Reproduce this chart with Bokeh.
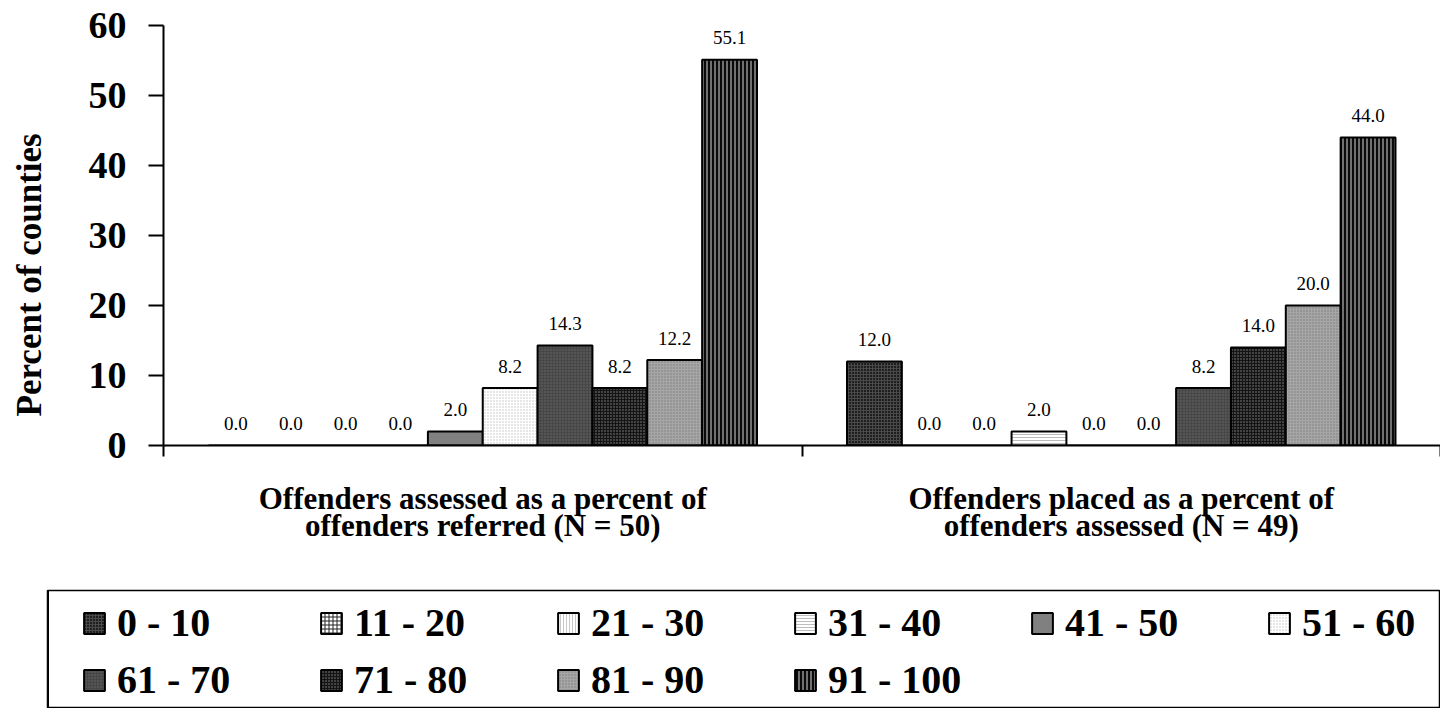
from bokeh.plotting import figure
from bokeh.models import (Range1d, FactorRange, FixedTicker, CategoricalAxis, LinearAxis,
                          ColumnDataSource, Legend, LegendItem)
from bokeh.transform import dodge
from bokeh.layouts import column
from bokeh.embed import file_html
from bokeh.resources import INLINE
from bokeh.core.properties import value

# ---------------- data ----------------
groups = ["Offenders assessed as a percent of\noffenders referred (N = 50)",
          "Offenders placed as a percent of\noffenders assessed (N = 49)"]
bins = ["0 - 10", "11 - 20", "21 - 30", "31 - 40", "41 - 50",
        "51 - 60", "61 - 70", "71 - 80", "81 - 90", "91 - 100"]
assessed = [0.0, 0.0, 0.0, 0.0, 2.0, 8.2, 14.3, 8.2, 12.2, 55.1]
placed = [12.0, 0.0, 0.0, 2.0, 0.0, 0.0, 8.2, 14.0, 20.0, 44.0]
y_ticks = [0, 10, 20, 30, 40, 50, 60]
y_title = "Percent of counties"

# ---------------- styles ----------------
FONT = "Liberation Serif"
styles = [
    dict(fill_color="#1e1e1e", hatch_pattern="cross", hatch_color="#4a4a4a", hatch_scale=3, hatch_weight=1),
    dict(fill_color="white", hatch_pattern="cross", hatch_color="#222222", hatch_scale=4, hatch_weight=1),
    dict(fill_color="white", hatch_pattern="vertical_line", hatch_color="#c8c8c8", hatch_scale=3, hatch_weight=1),
    dict(fill_color="white", hatch_pattern="horizontal_line", hatch_color="#bdbdbd", hatch_scale=3, hatch_weight=1),
    dict(fill_color="#808080", hatch_pattern=None),
    dict(fill_color="white", hatch_pattern="dot", hatch_color="#c0c0c0", hatch_scale=3, hatch_weight=1),
    dict(fill_color="#474747", hatch_pattern="dot", hatch_color="#6a6a6a", hatch_scale=3, hatch_weight=1),
    dict(fill_color="#141414", hatch_pattern="dot", hatch_color="#8a8a8a", hatch_scale=3, hatch_weight=1),
    dict(fill_color="#a6a6a6", hatch_pattern="dot", hatch_color="#7a7a7a", hatch_scale=3, hatch_weight=1),
    dict(fill_color="#0a0a0a", hatch_pattern="vertical_line", hatch_color="#d8d8d8", hatch_scale=4, hatch_weight=1),
]

n = len(bins)
group_frac = 0.859
bar_w = group_frac / n

# ---------------- main figure ----------------
cat_range = FactorRange(factors=groups)
p = figure(width=1440, height=589, x_range=cat_range, y_range=Range1d(0, 60),
           output_backend="svg", toolbar_location=None, x_axis_location=None,
           min_border_left=163, min_border_right=0, min_border_top=25, min_border_bottom=144)
p.outline_line_color = None
p.grid.visible = False
p.background_fill_color = "white"
p.border_fill_color = "white"
if "frame_align" in p.properties():
    p.frame_align = False

sources = []
for j, b in enumerate(bins):
    vals = [assessed[j], placed[j]]
    src = ColumnDataSource(dict(group=groups, top=vals, label=[f"{v:.1f}" for v in vals]))
    sources.append(src)
    off = (j - (n - 1) / 2) * bar_w
    p.vbar(x=dodge("group", off, range=cat_range), top="top", bottom=0, width=bar_w,
           source=src, line_color="black", line_width=2, **styles[j])
    p.text(x=dodge("group", off, range=cat_range), y="top", text="label", source=src,
           text_align="center", text_baseline="alphabetic", y_offset=-22,
           text_font=value(FONT), text_font_size="19px", text_color="black")

# x axis with ticks on the group boundaries
xa = LinearAxis(ticker=FixedTicker(ticks=[0, 1, 2]), major_tick_out=11, major_tick_in=0,
                minor_tick_line_color=None, major_label_overrides={0: "", 1: "", 2: ""},
                major_label_text_font_size="1px", major_label_standoff=0,
                axis_line_width=2, major_tick_line_width=2)
p.add_layout(xa, "below")

cax = CategoricalAxis(axis_line_color=None, major_tick_line_color=None,
                      minor_tick_line_color=None, major_label_standoff=18,
                      major_label_text_font=FONT, major_label_text_font_size="31px",
                      major_label_text_font_style="bold", major_label_text_color="black",
                      major_label_text_line_height=0.78)
p.add_layout(cax, "below")

ya = p.yaxis[0]
ya.ticker = FixedTicker(ticks=y_ticks)
ya.major_tick_out = 15
ya.major_tick_in = 0
ya.minor_tick_line_color = None
ya.axis_line_width = 2
ya.major_tick_line_width = 2
ya.major_label_standoff = 22
ya.major_label_text_font = FONT
ya.major_label_text_font_size = "38px"
ya.major_label_text_font_style = "bold"
ya.major_label_text_color = "black"
# trailing no-break spaces push the visible title slightly below the frame centre, as in the original
ya.axis_label = y_title + "\u00a0" * 9
ya.axis_label_standoff = 37
ya.axis_label_text_font = FONT
ya.axis_label_text_font_size = "35px"
ya.axis_label_text_font_style = "bold"
ya.axis_label_text_color = "black"

# ---------------- legend box ----------------
lg = figure(width=1394, height=119, x_range=Range1d(100, 101), y_range=Range1d(0, 1),
            output_backend="svg", toolbar_location=None,
            x_axis_location=None, y_axis_location=None,
            min_border=1, margin=(0, 0, 0, 46))
lg.grid.visible = False
lg.outline_line_color = "black"
lg.outline_line_width = 1.5
if "frame_align" in lg.properties():
    lg.frame_align = False

proxies = []
for j, b in enumerate(bins):
    off = (j - (n - 1) / 2) * bar_w
    r = lg.vbar(x=dodge("group", off, range=cat_range), top="top", bottom=0, width=bar_w,
                source=sources[j], line_color="black", line_width=2, **styles[j])
    proxies.append(r)

items = [LegendItem(label=b, renderers=[proxies[j]]) for j, b in enumerate(bins)]

common = dict(orientation="horizontal", glyph_width=26, glyph_height=26, label_standoff=10,
              label_width=140, spacing=61, padding=0, margin=0,
              border_line_alpha=0, background_fill_alpha=0,
              label_text_font=FONT, label_text_font_size="40px", label_text_font_style="bold",
              label_text_color="black")
leg1 = Legend(items=items[:6], location=(34, 61), **common)
leg2 = Legend(items=items[6:], location=(34, 4), **common)
lg.add_layout(leg1, "center")
lg.add_layout(leg2, "center")

layout = column(p, lg, spacing=0)
open("out.html", "w").write(file_html(layout, INLINE))
